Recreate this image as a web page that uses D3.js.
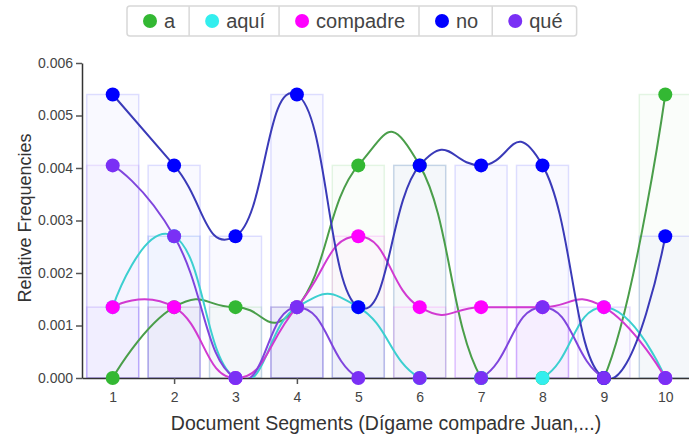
<!DOCTYPE html>
<html>
<head>
<meta charset="utf-8">
<script src="https://cdn.jsdelivr.net/npm/d3@7"></script>
<style>
  body { margin: 0; background: #fff; }
  svg { font-family: "Liberation Sans", Arial, sans-serif; }
</style>
</head>
<body>
<div id="chart-container"></div>
<script>
// segments along the document
const segments = ["1", "2", "3", "4", "5", "6", "7", "8", "9", "10"];

// relative frequency of each term per segment
const words = ["a", "aquí", "compadre", "no", "qué"];
const aValues        = [0, 0.00135, 0.00135, 0.00135, 0.00405, 0.00405, 0, 0, 0, 0.0054];
const aquiValues     = [0.00135, 0.0027, 0, 0.00135, 0.00135, 0, 0, 0, 0.00135, 0];
const compadreValues = [0.00135, 0.00135, 0, 0.00135, 0.0027, 0.00135, 0.00135, 0.00135, 0.00135, 0];
const noValues       = [0.0054, 0.00405, 0.0027, 0.0054, 0.00135, 0.00405, 0.00405, 0.00405, 0, 0.0027];
const queValues      = [0.00405, 0.0027, 0, 0.00135, 0, 0, 0, 0.00135, 0, 0];

const yTicks = [0, 0.001, 0.002, 0.003, 0.004, 0.005, 0.006];

const pointColors = ["#33b833", "#33eeee", "#ff00ff", "#0000ff", "#7a30f5"];
const lineColors  = ["#4a9e4a", "#3ccfd0", "#d13ad1", "#3a3ab8", "#7f45dd"];

const series = words.map((w, i) => ({
  word: w,
  values: [aValues, aquiValues, compadreValues, noValues, queValues][i],
  color: pointColors[i],
  lineColor: lineColors[i]
}));

const svgWidth = 689;
const svgHeight = 437;
const barWidth = 52;

const svg = d3.select("#chart-container")
  .append("svg")
  .attr("width", svgWidth)
  .attr("height", svgHeight);

// scales
const xScale = d3.scalePoint()
  .domain(segments)
  .range([82, 696])
  .padding(0.5);

const yScale = d3.scaleLinear()
  .domain([0, 0.006])
  .range([378, 63]);

// lines get cut at the x axis
svg.append("defs").append("clipPath")
  .attr("id", "plot-clip")
  .append("rect")
  .attr("x", 82)
  .attr("y", 0)
  .attr("width", svgWidth - 82)
  .attr("height", yScale(0));

// faint bars behind the lines
series.forEach(s => {
  svg.append("g")
    .selectAll("rect")
    .data(segments.map((seg, i) => ({ seg, v: s.values[i] })).filter(d => d.v > 0))
    .join("rect")
    .attr("x", d => xScale(d.seg) - barWidth / 2)
    .attr("y", d => yScale(d.v))
    .attr("width", barWidth)
    .attr("height", d => yScale(0) - yScale(d.v))
    .attr("fill", s.color)
    .attr("fill-opacity", 0.025)
    .attr("stroke", s.color)
    .attr("stroke-opacity", 0.12)
    .attr("stroke-width", 1.5);
});

// axes
const yAxis = svg.append("g")
  .attr("transform", "translate(82,0)")
  .call(d3.axisLeft(yScale).tickValues(yTicks).tickFormat(d3.format(".3f")).tickSizeOuter(0));

const xAxis = svg.append("g")
  .attr("transform", "translate(0,378)")
  .call(d3.axisBottom(xScale).tickSizeOuter(0).tickPadding(8));

[yAxis, xAxis].forEach(ax => {
  ax.select(".domain").attr("stroke", "#333").attr("stroke-width", 1.5);
  ax.selectAll(".tick line").attr("stroke", "#555").attr("stroke-width", 1.5);
  ax.selectAll("text")
    .style("font-size", "14px")
    .style("fill", "#444");
});

// lines
const line = d3.line()
  .x((d, i) => xScale(segments[i]))
  .y(d => yScale(d))
  .curve(d3.curveCardinal.tension(-0.5));

svg.append("g")
  .attr("clip-path", "url(#plot-clip)")
  .selectAll("path")
  .data(series)
  .join("path")
  .attr("d", d => line(d.values))
  .attr("fill", "none")
  .attr("stroke", d => d.lineColor)
  .attr("stroke-width", 2);

// points
series.forEach(s => {
  svg.append("g")
    .selectAll("circle")
    .data(s.values)
    .join("circle")
    .attr("cx", (d, i) => xScale(segments[i]))
    .attr("cy", d => yScale(d))
    .attr("r", 7)
    .attr("fill", s.color);
});

// axis titles
svg.append("text")
  .text("Document Segments (Dígame compadre Juan,...)")
  .attr("x", 386)
  .attr("y", 430)
  .attr("text-anchor", "middle")
  .style("font-size", "19.5px")
  .style("fill", "#333");

svg.append("text")
  .text("Relative Frequencies")
  .attr("transform", "translate(31,218) rotate(-90)")
  .attr("text-anchor", "middle")
  .style("font-size", "18px")
  .style("fill", "#333");

// legend
const legend = svg.append("g");
const legendItems = legend.selectAll("g")
  .data(series)
  .join("g");

legendItems.append("circle")
  .attr("r", 7)
  .attr("cy", 21)
  .attr("fill", d => d.color);

legendItems.append("text")
  .text(d => d.word)
  .attr("y", 28)
  .style("font-size", "20px")
  .style("fill", "#444");

let xPos = 127;
const cells = [];
legendItems.each(function () {
  const g = d3.select(this);
  const w = g.select("text").node().getComputedTextLength();
  g.select("circle").attr("cx", xPos + 23);
  g.select("text").attr("x", xPos + 37);
  const cellW = 37 + w + 14;
  cells.push([xPos, cellW]);
  xPos += cellW;
});

legend.insert("rect", ":first-child")
  .attr("x", 127)
  .attr("y", 6)
  .attr("width", xPos - 127)
  .attr("height", 30)
  .attr("rx", 3)
  .attr("fill", "#fff")
  .attr("stroke", "#d8d8d8")
  .attr("stroke-width", 1.5);

legend.selectAll("line.div")
  .data(cells.slice(1))
  .join("line")
  .attr("class", "div")
  .attr("x1", d => d[0])
  .attr("x2", d => d[0])
  .attr("y1", 6)
  .attr("y2", 36)
  .attr("stroke", "#d8d8d8")
  .attr("stroke-width", 1.5);
</script>
</body>
</html>
